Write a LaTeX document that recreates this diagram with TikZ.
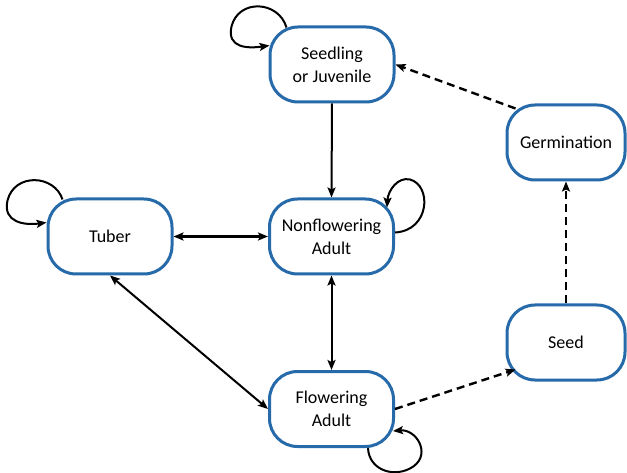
\documentclass[tikz,border=0pt]{standalone}
\usepackage{fontspec}
\setmainfont{Carlito}
\usetikzlibrary{arrows.meta,calc}
\definecolor{boxblue}{RGB}{38,106,170}
\begin{document}
\begin{tikzpicture}[x=1pt,y=1pt,
  state/.style={draw=boxblue,line width=3pt,fill=white,rounded corners=28pt,
    minimum height=75pt,inner sep=0pt,align=center,
    font=\fontsize{18}{23}\selectfont},
  wide/.style={minimum width=124pt},
  narrow/.style={minimum width=118pt},
  tip/.style={-{Stealth[length=10pt,width=8pt,inset=2pt]}},
  both/.style={{Stealth[length=10pt,width=8pt,inset=2pt]}-{Stealth[length=10pt,width=8pt,inset=2pt]}},
  conn/.style={line width=2pt,black},
  dsh/.style={line width=2.4pt,black,dash pattern=on 8pt off 5pt}]
\useasboundingbox (0,0) rectangle (627,-473);
\node[state,wide] (sj) at (332,-64.5) {Seedling\\or Juvenile};
\node[state,narrow] (gm) at (566,-142.5) {Germination};
\node[state,wide] (tb) at (110,-236.5) {Tuber};
\node[state,wide] (nf) at (331.5,-236.5) {Nonflowering\\Adult};
\node[state,narrow] (sd) at (566,-342.5) {Seed};
\node[state,wide] (fl) at (331.5,-409) {Flowering\\Adult};
% straight connectors
\draw[conn,tip] (sj.south) -- (nf.north);
\draw[conn,both,line width=3pt] (tb.east) -- (nf.west);
\draw[conn,both] (nf.south) -- (fl.north);
\draw[conn,both] (tb.south) -- (fl.west);
\draw[dsh,tip] (fl.east) -- ($(sd.south west)+(10,12)$);
\draw[dsh,tip] (sd.north) -- (gm.south);
\draw[dsh,tip] ($(gm.north west)+(10,-5)$) -- (sj.east);
% self loops
\draw[conn,tip] ($(sj.north west)+(18,-2)$) .. controls ($(sj.north west)+(10,25)$) and ($(sj.north west)+(-30,27)$) .. ($(sj.north west)+(-37,-1)$)
  .. controls ($(sj.north west)+(-42,-23)$) and ($(sj.north west)+(-20,-23)$) .. ($(sj.north west)+(1,-20)$);
\draw[conn,tip] ($(tb.north west)+(16,-2)$) .. controls ($(tb.north west)+(8,23)$) and ($(tb.north west)+(-32,25)$) .. ($(tb.north west)+(-39,-3)$)
  .. controls ($(tb.north west)+(-44,-25)$) and ($(tb.north west)+(-22,-28)$) .. ($(tb.north west)+(0,-25)$);
\draw[conn,tip] ($(nf.east)+(0,4)$) .. controls ($(nf.east)+(35,6)$) and ($(nf.east)+(37,51)$) .. ($(nf.east)+(15,57)$)
  .. controls ($(nf.east)+(3,60)$) and ($(nf.east)+(-7,46)$) .. ($(nf.east)+(-8,29)$);
\draw[conn,tip] ($(fl.south east)+(-27,0)$) .. controls ($(fl.south east)+(-26,-23)$) and ($(fl.south east)+(1,-31)$) .. ($(fl.south east)+(19,-18)$)
  .. controls ($(fl.south east)+(36,-5)$) and ($(fl.south east)+(21,19)$) .. ($(fl.south east)+(-2,17)$);
\end{tikzpicture}
\end{document}
